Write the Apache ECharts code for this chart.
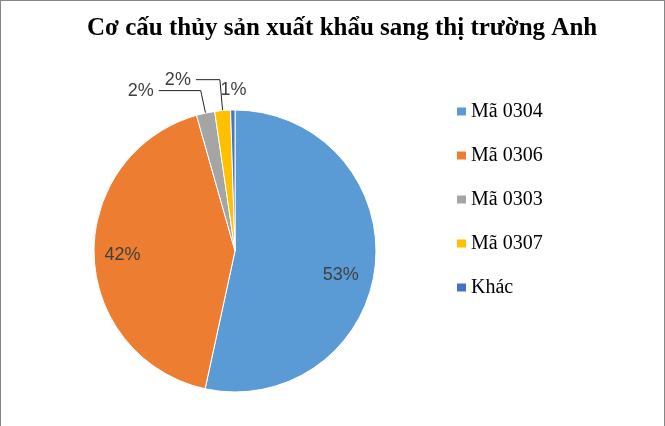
<!DOCTYPE html>
<html>
<head>
<meta charset="utf-8">
<script src="https://cdn.jsdelivr.net/npm/echarts@6/dist/echarts.min.js"></script>
<style>
html,body{margin:0;padding:0;background:#fff;}
#main{width:663px;height:425px;border-left:1px solid #868686;border-right:1px solid #868686;border-top:1px solid #868686;}
</style>
</head>
<body>
<div id="main"></div>
<script>
var titleText = 'Cơ cấu thủy sản xuất khẩu sang thị trường Anh';
var categories = ['Mã 0304', 'Mã 0306', 'Mã 0303', 'Mã 0307', 'Khác'];
var values = [53.4, 42.2, 2.1, 1.8, 0.5];
var colors = ['#5B9BD5', '#ED7D31', '#A5A5A5', '#FFC000', '#4472C4'];

var myChart = echarts.init(document.getElementById('main'));

// nhãn trong cho hai lát lớn, nhãn ngoài cho các lát nhỏ
var lineLen = [0, 0, 23, 31, 20];
var lineLen2 = [0, 0, 42, 24, 0];
var pieData = [];
var ringData = [];
for (var i = 0; i < categories.length; i++) {
    var big = i < 2;
    pieData.push({
        name: categories[i],
        value: values[i],
        label: {show: !big},
        labelLine: {show: !big && i !== 4, length: lineLen[i], length2: lineLen2[i]}
    });
    ringData.push({
        name: categories[i],
        value: values[i],
        label: {show: big}
    });
}

var labelFont = {
    fontFamily: 'Liberation Sans',
    fontSize: 18,
    color: '#404040',
    formatter: function (p) {
        return Math.round(p.percent) + '%';
    }
};

var option = {
    animation: false,
    color: colors,
    title: {
        text: titleText,
        left: 81,
        top: 10,
        textStyle: {
            fontFamily: 'Liberation Serif',
            fontWeight: 'bold',
            fontSize: 25,
            color: '#000'
        }
    },
    legend: {
        orient: 'vertical',
        left: 456,
        top: 99,
        padding: 0,
        itemWidth: 9,
        itemHeight: 8,
        itemGap: 21,
        icon: 'rect',
        itemStyle: {borderWidth: 0},
        data: categories,
        textStyle: {
            fontFamily: 'Liberation Serif',
            fontSize: 20,
            color: '#000',
            lineHeight: 23
        }
    },
    series: [
        {
            name: 'Cơ cấu',
            type: 'pie',
            center: [234, 250],
            radius: [0, 141],
            startAngle: 90,
            clockwise: true,
            avoidLabelOverlap: false,
            itemStyle: {borderColor: '#fff', borderWidth: 1},
            label: Object.assign({position: 'outside'}, labelFont),
            labelLine: {lineStyle: {color: '#222', width: 1}},
            labelLayout: function (params) {
                if (params.dataIndex === 4) {
                    return {dx: 19};
                }
            },
            data: pieData
        },
        {
            name: 'nhan',
            type: 'pie',
            center: [234, 250],
            radius: [78, 141],
            startAngle: 90,
            clockwise: true,
            silent: true,
            avoidLabelOverlap: false,
            itemStyle: {color: 'rgba(0,0,0,0)', borderWidth: 0},
            label: Object.assign({position: 'inside'}, labelFont),
            labelLine: {show: false},
            labelLayout: function (params) {
                if (params.dataIndex === 0) {
                    return {dx: -6, dy: 12};
                }
            },
            data: ringData
        }
    ]
};

myChart.setOption(option);
</script>
</body>
</html>
